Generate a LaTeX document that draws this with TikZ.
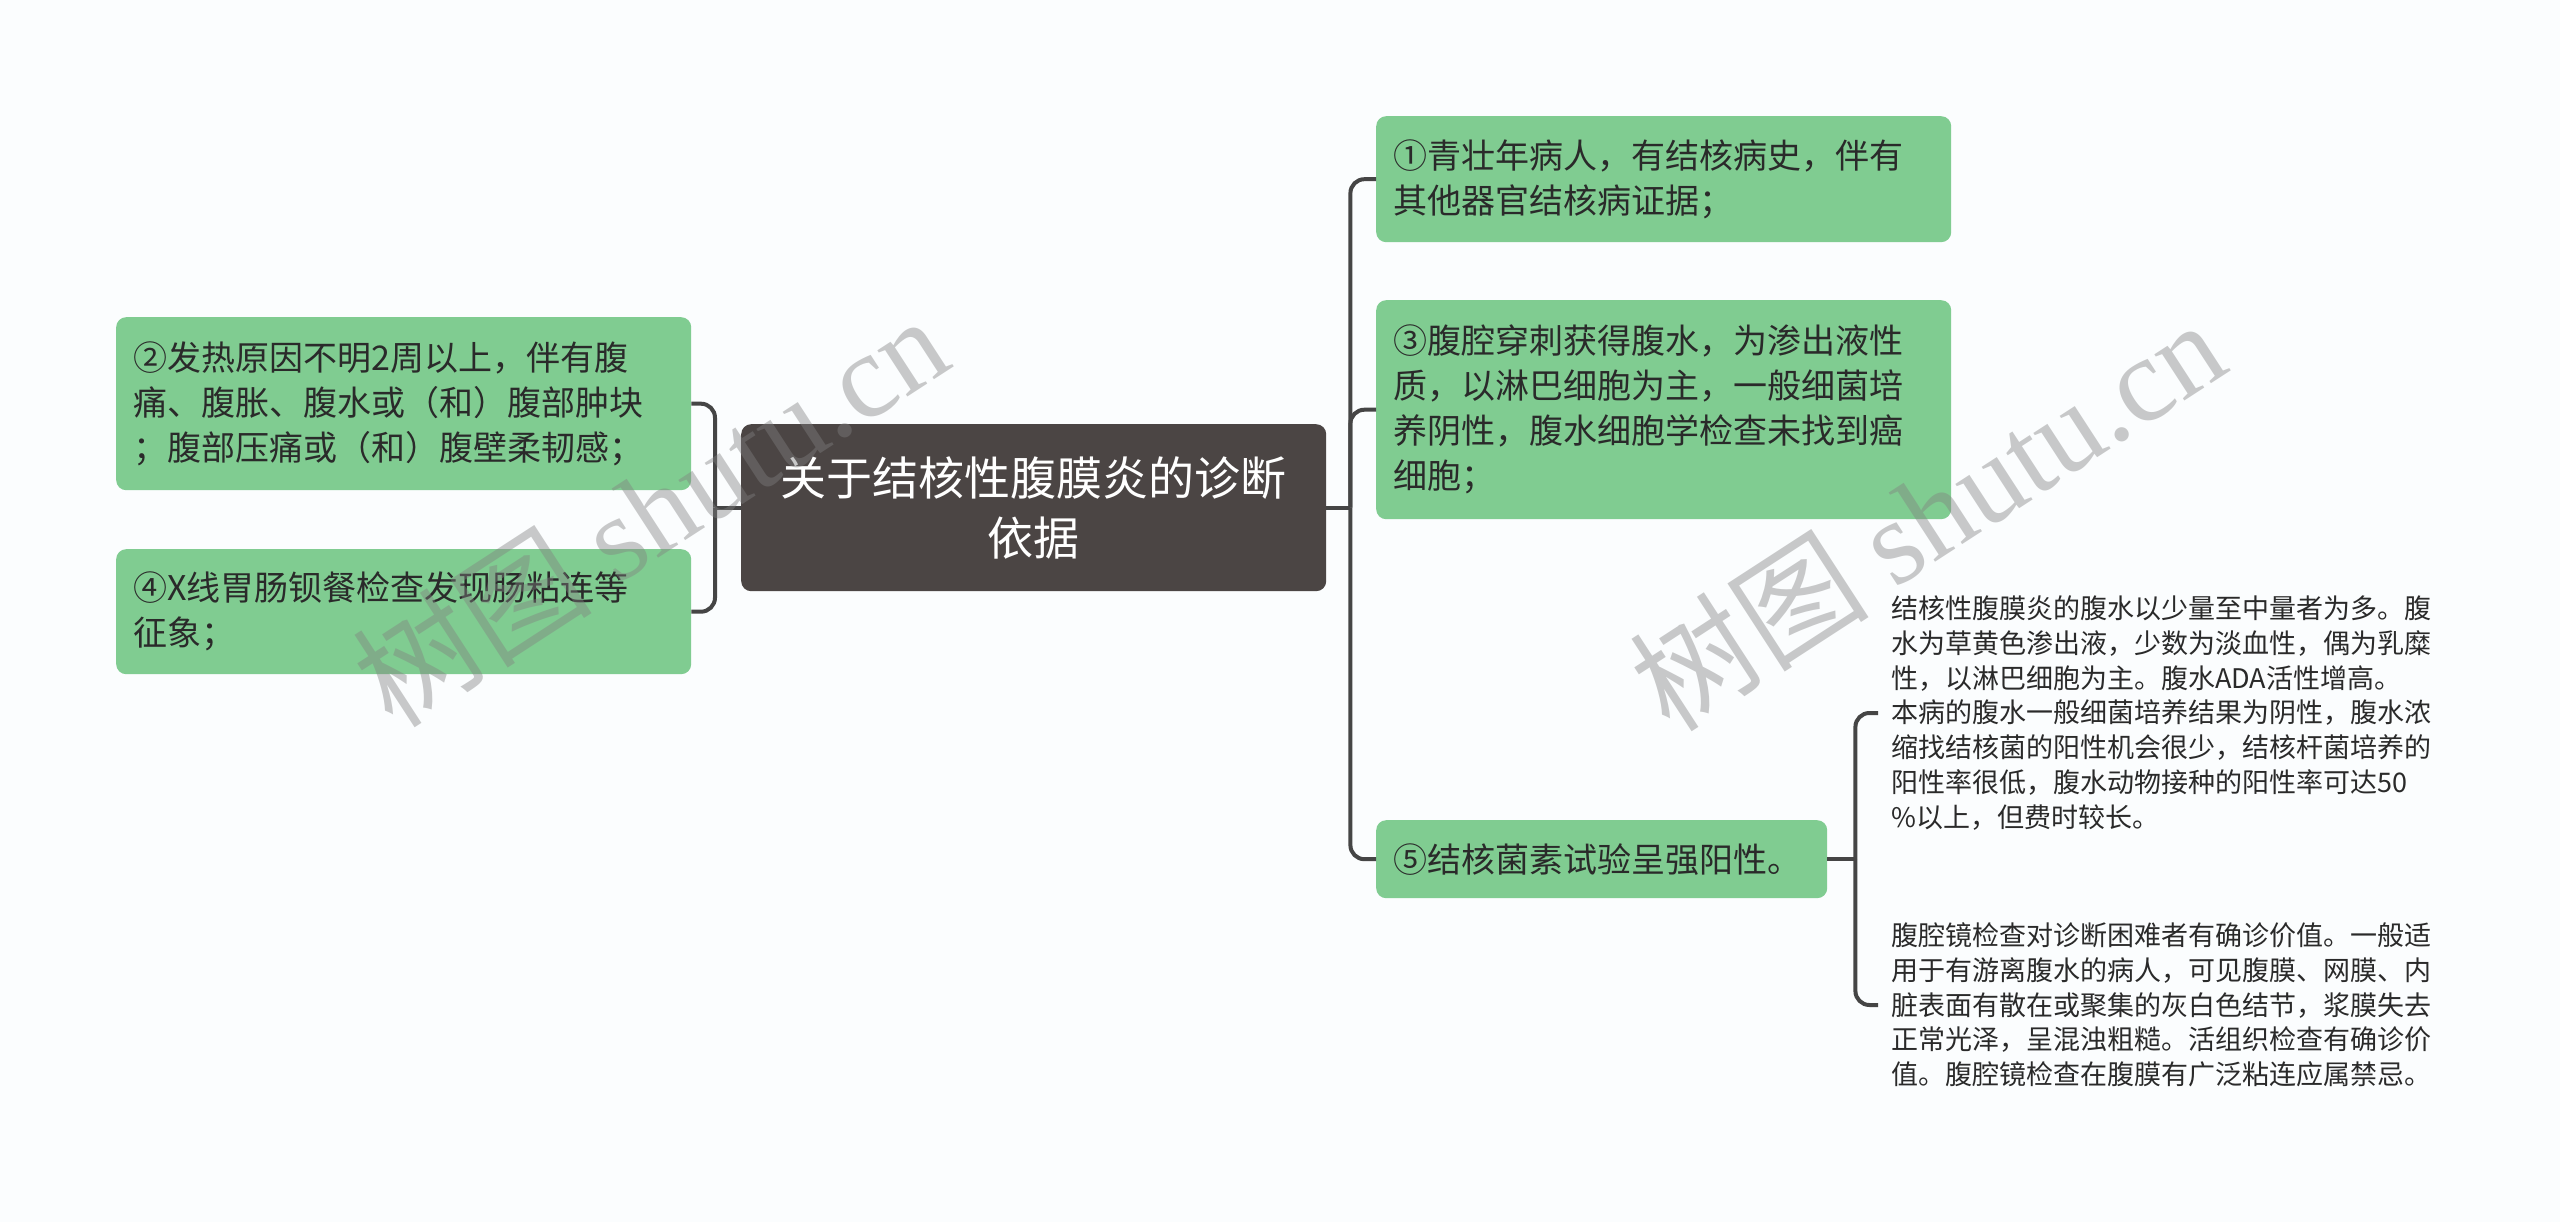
\documentclass[tikz,border=0pt]{standalone}
\usepackage{fontspec}
\setmainfont{Noto Sans CJK SC}
\newfontfamily\wmlatin{Liberation Serif}
\usetikzlibrary{calc}
\definecolor{bg}{HTML}{FBFDFE}
\definecolor{leafgreen}{HTML}{80CC91}
\definecolor{rootgray}{HTML}{4B4544}
\definecolor{linegray}{HTML}{454545}
\definecolor{txtdark}{HTML}{2A2A2A}
\definecolor{wmgray}{HTML}{808080}
\begin{document}
\begin{tikzpicture}[x=1pt,y=-1pt,
 rootbox/.style={fill=rootgray, rounded corners=10pt, anchor=north west, text=white, align=center, font=\fontsize{46}{60}\selectfont, inner sep=0pt},
 greenbox/.style={fill=leafgreen, rounded corners=10pt, anchor=north west, text=txtdark, align=left, font=\fontsize{34}{45}\selectfont, inner xsep=17pt, inner ysep=0pt},
 leaftext/.style={anchor=west, text=txtdark, align=left, font=\fontsize{27}{34.7}\selectfont, inner xsep=13pt, inner ysep=0pt},
 conn/.style={draw=linegray, line width=4pt},
 wm/.style={text=wmgray, text opacity=0.42, font=\fontsize{120}{120}\selectfont, rotate=33}]
\fill[bg] (0,0) rectangle (2560,1222);
\useasboundingbox (0,0) rectangle (2560,1222);

% root
\node[rootbox, minimum width=585pt, minimum height=167pt] (root) at (741,424) {关于结核性腹膜炎的诊断\\依据};

% right children
\node[greenbox, text width=541pt, minimum height=126pt] (n1) at (1376,116) {①青壮年病人，有结核病史，伴有\\其他器官结核病证据；};
\node[greenbox, text width=541pt, minimum height=219pt] (n3) at (1376,300) {③腹腔穿刺获得腹水，为渗出液性\\质，以淋巴细胞为主，一般细菌培\\养阴性，腹水细胞学检查未找到癌\\细胞；};
\node[greenbox, text width=417pt, minimum height=78pt] (n5) at (1376,820) {⑤结核菌素试验呈强阳性。};

% left children
\node[greenbox, text width=541pt, minimum height=173pt] (n2) at (116,317) {②发热原因不明2周以上，伴有腹\\痛、腹胀、腹水或（和）腹部肿块\\；腹部压痛或（和）腹壁柔韧感；};
\node[greenbox, text width=541pt, minimum height=125pt] (n4) at (116,549) {④X线胃肠钡餐检查发现肠粘连等\\征象；};

% leaves of n5
\node[leaftext] (l1) at (1878,713) {结核性腹膜炎的腹水以少量至中量者为多。腹\\水为草黄色渗出液，少数为淡血性，偶为乳糜\\性，以淋巴细胞为主。腹水ADA活性增高。\\本病的腹水一般细菌培养结果为阴性，腹水浓\\缩找结核菌的阳性机会很少，结核杆菌培养的\\阳性率很低，腹水动物接种的阳性率可达50\\\%以上，但费时较长。};
\node[leaftext] (l2) at (1878,1005) {腹腔镜检查对诊断困难者有确诊价值。一般适\\用于有游离腹水的病人，可见腹膜、网膜、内\\脏表面有散在或聚集的灰白色结节，浆膜失去\\正常光泽，呈混浊粗糙。活组织检查有确诊价\\值。腹腔镜检查在腹膜有广泛粘连应属禁忌。};

% connectors right
\coordinate (tr) at ($(root.east)+(24,0)$);
\draw[conn] (root.east) -- (tr);
\draw[conn, rounded corners=14pt] (tr) |- (n1.west);
\draw[conn, rounded corners=14pt] (tr) |- (n3.west);
\draw[conn, rounded corners=14pt] (tr) |- (n5.west);

% connectors left
\coordinate (tl) at ($(root.west)+(-26,0)$);
\draw[conn] (root.west) -- (tl);
\draw[conn, rounded corners=14pt] (tl) |- (n2.east);
\draw[conn, rounded corners=14pt] (tl) |- (n4.east);

% connectors n5 to leaves
\coordinate (t5) at ($(n5.east)+(28,0)$);
\draw[conn] (n5.east) -- (t5);
\draw[conn, rounded corners=14pt] (t5) |- (l1.west);
\draw[conn, rounded corners=14pt] (t5) |- (l2.west);

% watermarks
\node[wm] (wm1) at (650,510) {树图 {\wmlatin shutu.cn}};
\node[wm] (wm2) at (1927,514) {树图 {\wmlatin shutu.cn}};
\end{tikzpicture}
\end{document}
